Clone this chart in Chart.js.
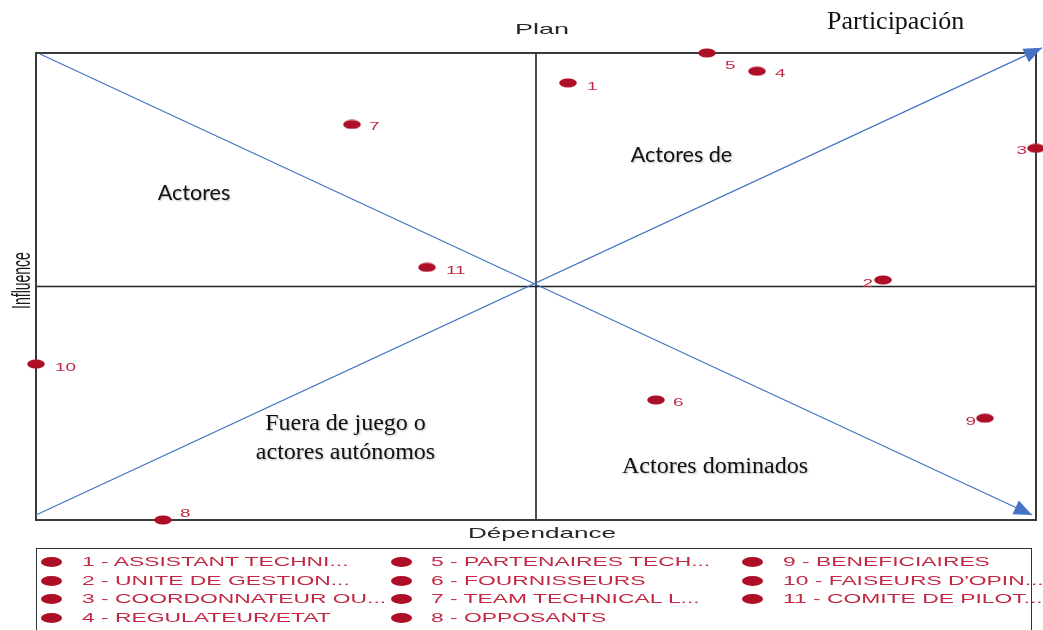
<!DOCTYPE html>
<html>
<head>
<meta charset="utf-8">
<script src="https://cdn.jsdelivr.net/npm/chart.js@4.4.1/dist/chart.umd.min.js"></script>
<style>
  html, body { margin: 0; padding: 0; background: #fff; overflow: hidden; }
  #wrap { position: relative; width: 1043px; height: 630px; }
  #c { position: absolute; left: 0; top: 0; }
  #legend { position: absolute; left: 36px; top: 548px; width: 996px; height: 100px;
            border: 1.5px solid #333; box-sizing: border-box; }
  .dot { position: absolute; width: 21px; height: 10px; border-radius: 50%; background: #ad0f27; }
  .lt { position: absolute; height: 18px; line-height: 18px; white-space: nowrap;
        font-family: 'Liberation Sans', Arial, sans-serif; font-size: 12.7px; color: #c22844;
        transform: scaleX(1.8); transform-origin: 0 50%; }
</style>
</head>
<body>
<div id="wrap">
  <canvas id="c" width="1043" height="630"></canvas>
  <div id="legend"></div>
</div>
<script>
// ---- data ----
const actorIds = ['1', '2', '3', '4', '5', '6', '7', '8', '9', '10', '11'];
const actorNames = ['ASSISTANT TECHNI...', 'UNITE DE GESTION...', 'COORDONNATEUR OU...', 'REGULATEUR/ETAT',
  'PARTENAIRES TECH...', 'FOURNISSEURS', 'TEAM TECHNICAL L...', 'OPPOSANTS',
  'BENEFICIAIRES', "FAISEURS D'OPIN...", 'COMITE DE PILOT...'];
const dependance = [53.2, 84.7, 100, 72.1, 67.1, 62.0, 31.6, 12.7, 94.9, 0, 39.1];
const influence  = [93.6, 51.4, 79.6, 96.1, 100, 25.7, 84.7, 0, 21.8, 33.4, 54.1];
const axisMin = 0, axisMax = 100, axisMid = 50;
const arrowDownX = [0.4, 99.6];
const arrowDownY = [99.8, 1.07];
const arrowUpX = [0, 100.6];
const arrowUpY = [1.07, 101.1];
const xTitle = 'Dépendance';
const yTitle = 'Influence';
const topTitle = 'Plan';
const cornerTitle = 'Participación';

// ---- annotation texts (anchors in data units) ----
const quadrantTexts = [
  { text: 'Actores', x: 15.8, y: 68.5, font: '21.5px Lato, sans-serif', align: 'center', shadow: true },
  { text: 'Actores de', x: 64.55, y: 76.7, font: '21.5px Lato, sans-serif', align: 'center', shadow: true },
  { text: 'Fuera de juego o', x: 30.95, y: 19.3, font: '24px "Liberation Serif", "Times New Roman", serif', align: 'center', shadow: true },
  { text: 'actores autónomos', x: 30.95, y: 13.1, font: '24px "Liberation Serif", "Times New Roman", serif', align: 'center', shadow: true },
  { text: 'Actores dominados', x: 67.9, y: 10.1, font: '24px "Liberation Serif", "Times New Roman", serif', align: 'center', shadow: true },
  { text: cornerTitle, x: 79.1, y: 105.1, font: '26px "Liberation Serif", "Times New Roman", serif', align: 'left', shadow: false }
];

// ---- label placement (style) ----
const labelPlacement = [
  { side: 'r', dx: 19, dy: 3 }, { side: 'l', dx: -10, dy: 3 }, { side: 'l', dx: -9, dy: 2 },
  { side: 'r', dx: 18, dy: 2 }, { side: 'r', dx: 18, dy: 12 }, { side: 'r', dx: 17, dy: 2 },
  { side: 'r', dx: 17, dy: 2 }, { side: 'r', dx: 17, dy: -7 }, { side: 'l', dx: -9, dy: 3 },
  { side: 'r', dx: 19, dy: 3 }, { side: 'r', dx: 19, dy: 3 }
];

const POINT_COLOR = '#ad0f27';
const LABEL_COLOR = '#c22844';
const BLUE = '#4472c4';
const STRETCH = 1.8;
const SANS = '"Liberation Sans", Arial, sans-serif';

// ellipse point style
const pstyle = document.createElement('canvas');
pstyle.width = 18; pstyle.height = 10;
(function () {
  const g = pstyle.getContext('2d');
  g.fillStyle = POINT_COLOR;
  g.beginPath(); g.ellipse(9, 5, 8.8, 4.6, 0, 0, Math.PI * 2); g.fill();
})();

function stretchedText(ctx, text, x, y, align, sx) {
  ctx.save();
  ctx.translate(x, y);
  ctx.scale(sx, 1);
  ctx.textAlign = align;
  ctx.textBaseline = 'alphabetic';
  ctx.fillText(text, 0, 0);
  ctx.restore();
}

const decorPlugin = {
  id: 'decor',
  beforeDatasetsDraw(chart) {
    const { ctx, chartArea: a, scales: { x, y } } = chart;
    ctx.save();
    ctx.strokeStyle = '#222';
    ctx.lineWidth = 1.6;
    const mx = x.getPixelForValue(axisMid), my = y.getPixelForValue(axisMid);
    ctx.beginPath();
    ctx.moveTo(mx, a.top); ctx.lineTo(mx, a.bottom);
    ctx.moveTo(a.left, my); ctx.lineTo(a.right, my);
    ctx.stroke();
    ctx.strokeStyle = '#3a3a3a';
    ctx.lineWidth = 2;
    ctx.strokeRect(a.left, a.top, a.right - a.left, a.bottom - a.top);
    ctx.restore();
  },
  afterDatasetsDraw(chart) {
    const { ctx, chartArea: a, scales: { x, y } } = chart;
    ctx.save();
    chart.data.datasets.forEach((ds, i) => {
      if (!ds.arrow) return;
      const pts = chart.getDatasetMeta(i).data;
      const p0 = pts[pts.length - 2], p1 = pts[pts.length - 1];
      const ang = Math.atan2(p1.y - p0.y, p1.x - p0.x);
      const L = 18, W = 7.5;
      ctx.fillStyle = BLUE;
      ctx.beginPath();
      ctx.moveTo(p1.x, p1.y);
      ctx.lineTo(p1.x - L * Math.cos(ang) + W * Math.sin(ang), p1.y - L * Math.sin(ang) - W * Math.cos(ang));
      ctx.lineTo(p1.x - L * Math.cos(ang) - W * Math.sin(ang), p1.y - L * Math.sin(ang) + W * Math.cos(ang));
      ctx.closePath();
      ctx.fill();
    });
    const meta = chart.getDatasetMeta(0);
    ctx.fillStyle = LABEL_COLOR;
    const fs = 10.5;
    ctx.font = fs + 'px ' + SANS;
    meta.data.forEach((pt, i) => {
      const lp = labelPlacement[i];
      const by = pt.y + lp.dy + 0.358 * fs;
      stretchedText(ctx, actorIds[i], pt.x + lp.dx, by, lp.side === 'r' ? 'left' : 'right', STRETCH);
    });
    ctx.fillStyle = '#262626';
    const cx = x.getPixelForValue(axisMid) + 6;
    ctx.font = '15px ' + SANS;
    stretchedText(ctx, topTitle, cx, a.top - 19, 'center', STRETCH);
    ctx.font = '14.5px ' + SANS;
    stretchedText(ctx, xTitle, cx, a.bottom + 18, 'center', STRETCH);
    ctx.save();
    ctx.translate(30, y.getPixelForValue(axisMid) - 6);
    ctx.rotate(-Math.PI / 2);
    ctx.scale(1, STRETCH);
    ctx.font = '14px ' + SANS;
    ctx.textAlign = 'center';
    ctx.textBaseline = 'alphabetic';
    ctx.fillStyle = '#1a1a1a';
    ctx.fillText(yTitle, 0, 0);
    ctx.restore();
    quadrantTexts.forEach(t => {
      ctx.save();
      ctx.font = t.font;
      ctx.fillStyle = '#111';
      ctx.textAlign = t.align;
      ctx.textBaseline = 'alphabetic';
      if (t.shadow) {
        ctx.shadowColor = 'rgba(0,0,0,0.28)';
        ctx.shadowBlur = 2;
        ctx.shadowOffsetX = 1;
        ctx.shadowOffsetY = 1;
      }
      ctx.fillText(t.text, x.getPixelForValue(t.x), y.getPixelForValue(t.y));
      ctx.restore();
    });
    ctx.restore();
  }
};

const toXY = (xs, ys) => xs.map((v, i) => ({ x: v, y: ys[i] }));

new Chart(document.getElementById('c'), {
  type: 'scatter',
  data: {
    datasets: [
      { label: 'Acteurs', data: toXY(dependance, influence), pointStyle: pstyle, order: 0, clip: false },
      { label: 'diag1', data: toXY(arrowDownX, arrowDownY), showLine: true, pointRadius: 0,
        borderColor: BLUE, borderWidth: 1.2, arrow: true, order: 1, clip: false },
      { label: 'diag2', data: toXY(arrowUpX, arrowUpY), showLine: true, pointRadius: 0,
        borderColor: BLUE, borderWidth: 1.2, arrow: true, order: 1, clip: false }
    ]
  },
  options: {
    responsive: false,
    devicePixelRatio: 1,
    animation: false,
    events: [],
    layout: { padding: { left: 36, right: 7, top: 53, bottom: 110 } },
    scales: {
      x: { type: 'linear', min: axisMin, max: axisMax, display: false },
      y: { type: 'linear', min: axisMin, max: axisMax, display: false }
    },
    plugins: { legend: { display: false }, tooltip: { enabled: false } }
  },
  plugins: [decorPlugin]
});

// ---- HTML legend (column-first, 4 rows) ----
const legend = document.getElementById('legend');
const colDot = [14, 364, 715];
const colText = [45, 394, 746];
const rowY = [13, 31.5, 50, 68.5];
actorIds.forEach((id, i) => {
  const col = Math.floor(i / 4), row = i % 4;
  const d = document.createElement('div');
  d.className = 'dot';
  d.style.left = (colDot[col] - 10.5) + 'px';
  d.style.top = (rowY[row] - 5) + 'px';
  legend.appendChild(d);
  const t = document.createElement('div');
  t.className = 'lt';
  t.style.left = colText[col] + 'px';
  t.style.top = (rowY[row] - 9) + 'px';
  t.textContent = id + ' - ' + actorNames[i];
  legend.appendChild(t);
});
</script>
</body>
</html>
